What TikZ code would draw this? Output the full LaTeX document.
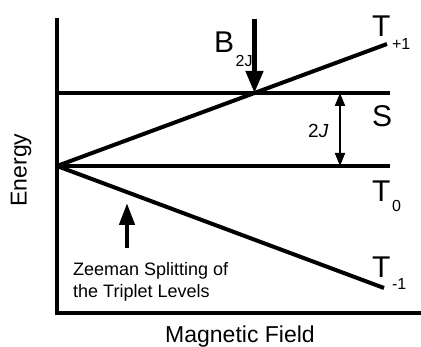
\documentclass[tikz,border=0pt]{standalone}
\usepackage{fontspec}
\setmainfont{Liberation Sans}
\usetikzlibrary{arrows.meta,positioning,calc}
\newcommand{\lowsub}[2][12pt]{\hspace{1.5pt}\raisebox{-#1}{\fontsize{16}{16}\selectfont #2}}

\begin{document}
\begin{tikzpicture}[
  x=1pt, y=-1pt,
  axis/.style={line width=3.3pt},
  level/.style={line width=3.3pt},
  split/.style={line width=4pt},
  bigarrow/.style={-{Triangle[length=22pt,width=17pt]}, line width=4.5pt},
  gaparrow/.style={{Triangle[length=13pt,width=10pt]}-{Triangle[length=13pt,width=10pt]}, line width=2pt},
  state/.style={inner sep=0pt, anchor=base west, font=\fontsize{30}{30}\selectfont},
  axislabel/.style={inner sep=0pt, font=\fontsize{23}{23}\selectfont}
]
\useasboundingbox (0,0) rectangle (421,347);

% Axes
\coordinate (O) at (57,313);
\coordinate (ytop) at (57,18);
\coordinate (xend) at (421,313);
\draw[axis] (ytop) -- (O) -- (xend);

% Singlet and T0 levels
\coordinate (sL) at (57,93);
\coordinate (sR) at (390,93);
\coordinate (t0L) at (57,166);
\coordinate (t0R) at (390,166);
\draw[level] (sL) -- (sR);
\draw[level] (t0L) -- (t0R);

% Zeeman split levels
\coordinate (tp) at (387,44);
\coordinate (tm) at (384,288);
\draw[split] (t0L) -- (tp);
\draw[split] (t0L) -- (tm);

% Level crossing
\coordinate (cross) at (intersection of t0L--tp and sL--sR);
\coordinate (btop) at ($(cross |- 0,19)$);
\draw[bigarrow] (btop) -- (cross);
\node[state] (bjj) at (214,53) {B\lowsub[14pt]{2J}};

% Exchange gap
\coordinate (jT) at (340,93);
\coordinate (jB) at (340,166);
\draw[gaparrow] (jT) -- (jB);
\node[inner sep=0pt, anchor=base west, font=\fontsize{19}{19}\selectfont] (jlab) at (308,138) {2\textit{J}};

% State labels
\node[state] (tplus) at (372,37) {T\lowsub[13pt]{+1}};
\node[state] (sing) at (372,127) {S};
\node[state] (tzero) at (372,202) {T\lowsub[10pt]{0}};
\node[state] (tminus) at (372,278) {T\lowsub[12pt]{-1}};

% Zeeman note
\coordinate (zb) at (127,248);
\coordinate (zt) at (127,203);
\draw[bigarrow, -{Triangle[length=22pt,width=15pt]}] (zb) -- (zt);
\node[inner sep=0pt, anchor=base west, align=left, font=\fontsize{18}{22}\selectfont] (note) at (73,298)
  {Zeeman Splitting of\\the Triplet Levels};

% Axis labels
\node[axislabel, rotate=90] (elab) at (21,170) {Energy};
\node[axislabel, anchor=base] (blab) at (240,343) {Magnetic Field};
\end{tikzpicture}
\end{document}
